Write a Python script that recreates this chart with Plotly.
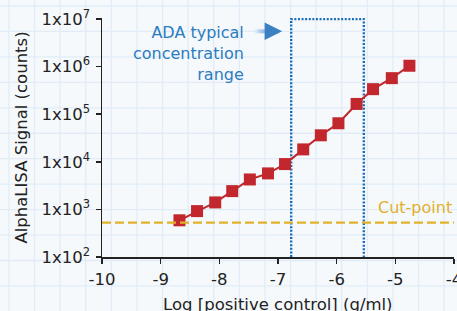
import plotly.graph_objects as go
import numpy as np

# ---- data ----
log_conc = [-8.68, -8.38, -8.07, -7.78, -7.48, -7.17, -6.88, -6.57, -6.27, -5.97, -5.66, -5.38, -5.06, -4.76]
signal = [590, 920, 1400, 2420, 4250, 5700, 8950, 18200, 36000, 64400, 164000, 335000, 571000, 1040000]
cut_point = 525
ada_range = [-6.775, -5.537]
ada_signal = [1e2, 1e7]
x_tickvals = [-10, -9, -8, -7, -6, -5, -4]
x_ticktext = ["-10", "-9", "-8", "-7", "-6", "-5", "-4"]
y_exponents = [2, 3, 4, 5, 6, 7]

W, H = 457, 311
L, R, T, B = 102, 3, 18, 54
pw, ph = W - L - R, H - T - B
YR = [2, 7.02]

FONT = "DejaVu Sans"
FS = 16.5
RED = "#c1272d"
BLUE = "#1a6cb8"
GOLD = "#dfb12c"

fig = go.Figure()

# dotted "typical range" box
fig.add_trace(go.Scatter(
    x=[ada_range[0], ada_range[0], ada_range[1], ada_range[1]],
    y=[ada_signal[0], ada_signal[1], ada_signal[1], ada_signal[0]],
    mode="lines", line=dict(color=BLUE, width=2.4, dash="2px,1.6px"),
    showlegend=False, hoverinfo="skip"))

fig.add_trace(go.Scatter(
    x=log_conc, y=signal, mode="lines+markers",
    line=dict(color=RED, width=2),
    marker=dict(symbol="square", size=12, color=RED),
    showlegend=False, hoverinfo="skip"))

fig.add_trace(go.Scatter(
    x=[x_tickvals[0], x_tickvals[-1]], y=[cut_point, cut_point], mode="lines",
    line=dict(color=GOLD, width=2.3, dash="9px,4px"),
    showlegend=False, hoverinfo="skip"))

shapes = []
# graph-paper background
def px2x(px):
    return (px - L) / pw
def px2y(py):
    return (H - B - py) / ph
gx = 8.9
while gx < W:
    shapes.append(dict(type="line", xref="paper", yref="paper", x0=px2x(gx), x1=px2x(gx),
                       y0=px2y(H), y1=px2y(0), line=dict(color="#e1ecf7", width=1.3), layer="below"))
    gx += 25.6
gy = 6
while gy < H:
    shapes.append(dict(type="line", xref="paper", yref="paper", x0=px2x(0), x1=px2x(W),
                       y0=px2y(gy), y1=px2y(gy), line=dict(color="#e1ecf7", width=1.3), layer="below"))
    gy += 25.45

# gradient arrow shaft
x_start, x_end = -7.39, -7.0
ya_log = 6.74
ya_paper = (ya_log - YR[0]) / (YR[1] - YR[0])
n = 12
cols_a = np.array([222, 234, 246])
cols_b = np.array([52, 125, 192])
for i in range(n):
    t = (i / (n - 1)) ** 0.8
    c = (cols_a * (1 - t) + cols_b * t).astype(int)
    xa = x_start + (x_end - x_start) * i / n
    xb = x_start + (x_end - x_start) * (i + 1) / n
    shapes.append(dict(type="line", xref="x", yref="paper", x0=xa, x1=xb, y0=ya_paper, y1=ya_paper,
                       line=dict(color=f"rgb({c[0]},{c[1]},{c[2]})", width=4)))

annotations = [
    dict(x=-6.93, y=ya_log, ax=-7.05, ay=ya_log, xref="x", yref="y", axref="x", ayref="y",
         text="", showarrow=True, arrowhead=2, arrowsize=1.0, arrowwidth=3.5, arrowcolor="#3a80c2"),
    dict(x=-7.54, y=6.96, xref="x", yref="y", xanchor="right", yanchor="top", align="right",
         text="ADA typical<br>concentration<br>range", showarrow=False,
         font=dict(family=FONT, size=16, color="#2b7cc0")),
    dict(x=-4.0, y=np.log10(1090), xref="x", yref="y", xanchor="right", yanchor="middle",
         text="Cut-point", showarrow=False, font=dict(family=FONT, size=16, color=GOLD)),
    dict(x=0.5, y=px2y(304), xref="paper", yref="paper", xanchor="center", yanchor="middle",
         text="Log [positive control] (g/ml)", showarrow=False,
         font=dict(family=FONT, size=FS, color="#222")),
]

fig.update_layout(
    width=W, height=H,
    margin=dict(l=L, r=R, t=T, b=B, autoexpand=False),
    paper_bgcolor="#f6f9fb", plot_bgcolor="rgba(0,0,0,0)",
    font=dict(family=FONT, size=FS, color="#222222"),
    shapes=shapes, annotations=annotations,
    xaxis=dict(range=[-10, -4], tickvals=x_tickvals, ticktext=x_ticktext,
               showgrid=False, zeroline=False, showline=True, linecolor="#222", linewidth=1.5,
               ticks="outside", ticklen=5, tickwidth=1.5, tickcolor="#222",
               ticklabelstandoff=2, ticklabeloverflow="allow"),
    yaxis=dict(type="log", range=YR,
               tickvals=[10 ** e for e in y_exponents],
               ticktext=[f"1x10<sup>{e}</sup>" for e in y_exponents],
               showgrid=False, zeroline=False, showline=True, linecolor="#222", linewidth=1.5,
               ticks="outside", ticklen=5, tickwidth=1.5, tickcolor="#222",
               ticklabelstandoff=2, ticklabeloverflow="allow",
               title=dict(text="AlphaLISA Signal (counts)", standoff=10,
                          font=dict(family=FONT, size=FS, color="#222"))),
)

fig.write_html("out.html", config={"displayModeBar": False, "staticPlot": True},
               post_script="document.body.style.margin='0px';document.body.style.overflow='hidden';")
